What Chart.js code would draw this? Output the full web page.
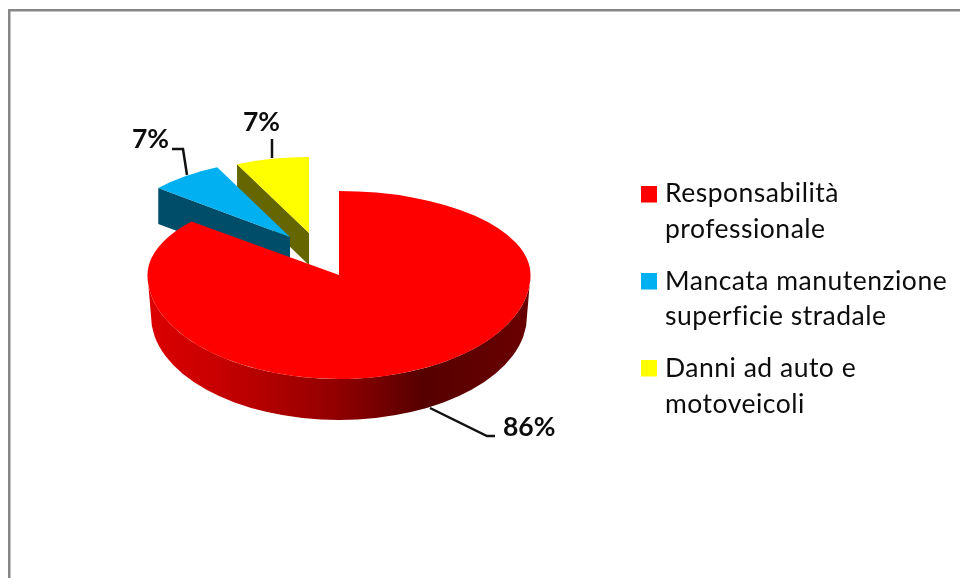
<!DOCTYPE html>
<html>
<head>
<meta charset="utf-8">
<style>html,body{margin:0;padding:0;background:#fff}canvas{display:block}</style>
<script src="https://cdn.jsdelivr.net/npm/chart.js@4"></script>
</head>
<body>
<canvas id="c" width="960" height="578"></canvas>
<script>
const categories = ["Responsabilità professionale", "Mancata manutenzione superficie stradale", "Danni ad auto e motoveicoli"];
const values = [86, 7, 7];
const legendLines = [["Responsabilità", "professionale"], ["Mancata manutenzione", "superficie stradale"], ["Danni ad auto e", "motoveicoli"]];
const topColors = ["#ff0000", "#00b0f0", "#ffff00"];
const sideColors = [null, "#004d69", "#666600"];

// Projection of every slice on the tilted, exploded pie (style only)
const apexX = [339, 290, 309];
const apexY = [275, 237, 233];
const radX = [191.5, 171, 169];
const radYUp = [84, 77, 76];
const radYDown = [104, 77, 76];
const depth = [41, 36, 32];
const drawOrder = [2, 1, 0];

const labelPos = [[503, 436], [132, 148], [243, 131]];
const leaders = [[[430, 408], [487, 436], [495, 436]], [[187, 175], [183, 149], [172, 149]], [[272, 158], [272, 139]]];
const legendY = [186, 273, 360];
const legendBase = [[202, 238], [290, 325], [377, 413]];

const FONT = 'Lato, Carlito, sans-serif';

function withSlice(ctx, arc, i, ry, fn) {
  ctx.save();
  ctx.translate(apexX[i], apexY[i]);
  ctx.scale(radX[i] / arc.outerRadius, ry / arc.outerRadius);
  ctx.translate(-arc.x, -arc.y);
  fn();
  ctx.restore();
}

function drawSide(ctx, chart, arc, i) {
  const ax = apexX[i], ay = apexY[i], rx = radX[i], d = depth[i];
  if (i === 0) {
    const a = Math.max(arc.startAngle, 0), b = Math.min(arc.endAngle, Math.PI);
    const g = ctx.createLinearGradient(ax - rx, 0, ax + rx, 0);
    g.addColorStop(0, "#dc0000");
    g.addColorStop(0.18, "#c80000");
    g.addColorStop(0.5, "#900000");
    g.addColorStop(0.72, "#560000");
    g.addColorStop(1, "#6a0000");
    ctx.fillStyle = g;
    ctx.beginPath();
    ctx.ellipse(ax, ay, rx, radYDown[i], 0, a, b);
    ctx.ellipse(ax, ay + d, rx - 3.5, radYDown[i], 0, b, a, true);
    ctx.closePath();
    ctx.fill();
  } else {
    const cx = ax + rx * Math.cos(arc.startAngle);
    const cy = ay + radYUp[i] * Math.sin(arc.startAngle);
    ctx.fillStyle = sideColors[i];
    ctx.beginPath();
    ctx.moveTo(ax, ay);
    ctx.lineTo(cx, cy);
    ctx.lineTo(cx, cy + d);
    ctx.lineTo(ax, ay + d);
    ctx.closePath();
    ctx.fill();
  }
}

const pie3d = {
  id: 'pie3d',
  beforeDraw(chart) {
    const ctx = chart.ctx;
    ctx.save();
    ctx.fillStyle = "#ffffff";
    ctx.fillRect(0, 0, chart.width, chart.height);
    ctx.fillStyle = "#868686";
    ctx.fillRect(8, 9, 2.5, chart.height - 9);
    ctx.fillRect(8, 9, chart.width - 8, 2.5);
    ctx.restore();
  },
  beforeDatasetDraw(chart, args) {
    const ctx = chart.ctx;
    const arcs = chart.getDatasetMeta(args.index).data;
    drawOrder.forEach(i => {
      const arc = arcs[i];
      drawSide(ctx, chart, arc, i);
      if (radYUp[i] === radYDown[i]) {
        withSlice(ctx, arc, i, radYUp[i], () => arc.draw(ctx));
      } else {
        ctx.save();
        ctx.beginPath();
        ctx.rect(0, 0, chart.width, apexY[i] + 0.5);
        ctx.clip();
        withSlice(ctx, arc, i, radYUp[i], () => arc.draw(ctx));
        ctx.restore();
        ctx.save();
        ctx.beginPath();
        ctx.rect(0, apexY[i], chart.width, chart.height);
        ctx.clip();
        withSlice(ctx, arc, i, radYDown[i], () => arc.draw(ctx));
        ctx.restore();
      }
    });
    return false;
  },
  afterDraw(chart) {
    const ctx = chart.ctx;
    const total = values.reduce((s, v) => s + v, 0);
    ctx.save();
    ctx.strokeStyle = "#111111";
    ctx.lineWidth = 2.5;
    leaders.forEach(pts => {
      ctx.beginPath();
      pts.forEach((p, k) => k ? ctx.lineTo(p[0], p[1]) : ctx.moveTo(p[0], p[1]));
      ctx.stroke();
    });
    ctx.fillStyle = "#0d0d0d";
    ctx.textBaseline = "alphabetic";
    ctx.textAlign = "left";
    ctx.font = "bold 26.5px " + FONT;
    values.forEach((v, i) => {
      ctx.fillText(Math.round(v / total * 100) + "%", labelPos[i][0], labelPos[i][1]);
    });
    ctx.font = "26.5px " + FONT;
    ctx.letterSpacing = "0.5px";
    legendLines.forEach((lines, i) => {
      ctx.fillStyle = topColors[i];
      ctx.fillRect(641, legendY[i], 16, 16.5);
      ctx.fillStyle = "#0d0d0d";
      lines.forEach((t, k) => ctx.fillText(t, 665, legendBase[i][k]));
    });
    ctx.restore();
  }
};

new Chart(document.getElementById('c'), {
  type: 'pie',
  data: {
    labels: categories,
    datasets: [{ data: values, backgroundColor: topColors, borderWidth: 0 }]
  },
  options: {
    responsive: false,
    animation: false,
    plugins: { legend: { display: false }, tooltip: { enabled: false } }
  },
  plugins: [pie3d]
});
</script>
</body>
</html>
